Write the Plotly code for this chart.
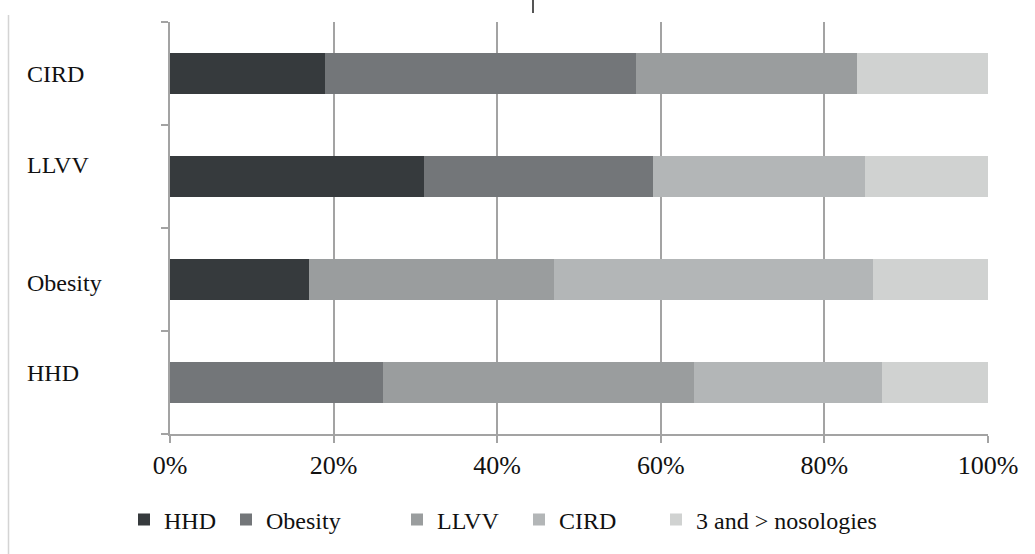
import plotly.graph_objects as go

# Groups (bottom to top on the category axis)
groups = ["HHD", "Obesity", "LLVV", "CIRD"]

# Share of each accompanying nosology within a group, %
series_names = ["HHD", "Obesity", "LLVV", "CIRD", "3 and > nosologies"]
hhd_share = [0, 17, 31, 19]
obesity_share = [26, 0, 28, 38]
llvv_share = [38, 30, 0, 27]
cird_share = [23, 39, 26, 0]
multi_share = [13, 14, 15, 16]

tick_values = [0, 20, 40, 60, 80, 100]
tick_labels = ["0%", "20%", "40%", "60%", "80%", "100%"]

colors = ["#363a3d", "#737679", "#9a9d9e", "#b3b6b7", "#d0d2d1"]
series_values = [hhd_share, obesity_share, llvv_share, cird_share, multi_share]

FONT = "Liberation Serif"
W, H = 1035, 554
L, R, T, B = 170, 47, 22, 120
plot_w = W - L - R
plot_h = H - T - B

fig = go.Figure()
legend_left_px = [124, 226, 397, 519, 656]
for i, (name, vals, col) in enumerate(zip(series_names, series_values, colors)):
    key = "legend" if i == 0 else f"legend{i + 1}"
    fig.add_trace(go.Bar(
        y=groups, x=vals, name=name, orientation="h",
        marker=dict(color=col, line=dict(width=0)),
        legend=key, hoverinfo="x+name",
    ))
    fig.update_layout(**{key: dict(
        x=(legend_left_px[i] - L) / plot_w, xanchor="left",
        y=(T + plot_h - 520) / plot_h, yanchor="middle",
        orientation="h", bgcolor="rgba(0,0,0,0)", borderwidth=0,
        font=dict(family=FONT, size=24, color="#111111"),
    )})

# Category labels, left-aligned at the edge of the figure
label_shift = {"CIRD": 0, "LLVV": 12, "Obesity": -3, "HHD": 10}
for g in groups:
    fig.add_annotation(
        x=(25 - L) / plot_w, xref="paper", xanchor="left",
        y=g, yref="y", yanchor="middle", yshift=label_shift[g],
        text=g, showarrow=False,
        font=dict(family=FONT, size=24, color="#111111"),
    )

# Thin frame remnants around the chart
fig.add_shape(type="line", xref="paper", yref="paper",
              x0=(8.5 - L) / plot_w, x1=(8.5 - L) / plot_w,
              y0=(T + plot_h - 15) / plot_h, y1=(T + plot_h - H) / plot_h,
              line=dict(color="#d4d4d4", width=1.5))
fig.add_shape(type="line", xref="paper", yref="paper",
              x0=(533 - L) / plot_w, x1=(533 - L) / plot_w,
              y0=(T + plot_h) / plot_h, y1=(T + plot_h - 13) / plot_h,
              line=dict(color="#555555", width=2))

fig.update_layout(
    width=W, height=H,
    margin=dict(l=L, r=R, t=T, b=B),
    barmode="stack", bargap=0.6,
    paper_bgcolor="white", plot_bgcolor="white",
    showlegend=True,
    font=dict(family=FONT, color="#111111"),
    xaxis=dict(
        range=[0, 100], tickmode="array",
        tickvals=tick_values, ticktext=tick_labels,
        showgrid=True, gridcolor="#a3a3a3", gridwidth=1.5,
        showline=True, linecolor="#a3a3a3", linewidth=2,
        ticks="outside", ticklen=7, tickcolor="#a3a3a3", tickwidth=1.5,
        tickfont=dict(family=FONT, size=26, color="#111111"),
        zeroline=False, fixedrange=True,
    ),
    yaxis=dict(
        type="category", categoryorder="array", categoryarray=groups,
        range=[-0.5, 3.5], tickson="boundaries",
        showticklabels=False, showgrid=False,
        showline=True, linecolor="#a3a3a3", linewidth=2,
        ticks="outside", ticklen=7, tickcolor="#a3a3a3", tickwidth=1.5,
        zeroline=False, fixedrange=True,
    ),
)

fig.write_html("out.html")
